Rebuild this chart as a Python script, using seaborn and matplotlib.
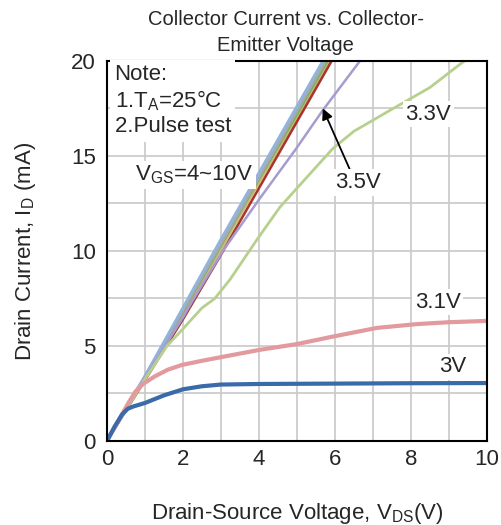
import numpy as np
import pandas as pd
import matplotlib
matplotlib.use("Agg")
import matplotlib.pyplot as plt
import seaborn as sns

# ---- data ----
# VGS = 4~10V bundle (nearly identical curves)
v_bundle = [0, 1, 2, 3, 4, 5, 6]
i_bundle_blue = [0, 3.4, 7.0, 10.6, 14.1, 17.6, 21.1]
i_bundle_gray = [0, 3.4, 6.9, 10.4, 13.9, 17.4, 20.9]
i_bundle_green = [0, 3.35, 6.8, 10.3, 13.8, 17.2, 20.7]
i_bundle_olive = [0, 3.3, 6.7, 10.1, 13.6, 17.0, 20.5]
v_red = [0, 1, 2, 3, 4, 5, 6]
i_red = [0, 3.2, 6.4, 9.8, 13.3, 16.8, 20.3]

# VGS = 3.5V
v_35 = [0, 1, 2, 2.26, 3.05, 4, 4.95, 5.68, 6.66, 7.0]
i_35 = [0, 3.3, 6.5, 7.4, 10.0, 12.7, 15.3, 17.4, 20.0, 20.9]

# VGS = 3.3V
v_33 = [0, 1, 1.58, 2.0, 2.5, 2.84, 3.24, 3.95, 4.55, 5.0, 5.95, 6.5, 7.45, 8.5, 9.34, 9.8]
i_33 = [0, 3.25, 5.0, 5.9, 7.0, 7.5, 8.5, 10.6, 12.3, 13.3, 15.4, 16.3, 17.4, 18.6, 19.9, 20.5]

# VGS = 3.1V
v_31 = [0, 0.3, 0.55, 0.75, 0.95, 1.26, 1.6, 1.97, 2.5, 2.97, 4.03, 5.0, 5.96, 7.1, 8.15, 9.0, 10]
i_31 = [0, 1.05, 1.95, 2.6, 3.0, 3.4, 3.75, 4.0, 4.22, 4.4, 4.8, 5.1, 5.5, 5.95, 6.15, 6.25, 6.32]

# VGS = 3V
v_30 = [0, 0.2, 0.4, 0.55, 0.7, 1.0, 1.5, 2.0, 2.5, 3.0, 4, 6, 8, 10]
i_30 = [0, 0.75, 1.4, 1.7, 1.82, 2.0, 2.4, 2.72, 2.88, 2.97, 3.0, 3.02, 3.04, 3.05]

series = [
    (v_bundle, i_bundle_olive, "#c9bd72", 2.0),
    (v_bundle, i_bundle_green, "#84b067", 2.2),
    (v_bundle, i_bundle_gray, "#a9a9a9", 2.2),
    (v_bundle, i_bundle_blue, "#92b4dc", 2.2),
    (v_red, i_red, "#a8332f", 1.8),
    (v_35, i_35, "#a79bd0", 1.8),
    (v_33, i_33, "#b7d08e", 2.0),
    (v_31, i_31, "#e29a9e", 3.0),
    (v_30, i_30, "#3b6aab", 3.0),
]

sns.set_style("white")
plt.rcParams["font.family"] = ["Liberation Sans", "DejaVu Sans"]
plt.rcParams["mathtext.fontset"] = "custom"
plt.rcParams["mathtext.rm"] = "Liberation Sans"

fig = plt.figure(figsize=(5.02, 5.25), dpi=100)
ax = fig.add_axes([0.213, 0.16, 0.757, 0.724])

for v, i, c, lw in series:
    df = pd.DataFrame({"V": v, "I": i})
    sns.lineplot(data=df, x="V", y="I", ax=ax, color=c, linewidth=lw, sort=False)

ax.set_xlim(0, 10)
ax.set_ylim(0, 20)
ax.set_xticks(np.arange(0, 11, 2))
ax.set_yticks(np.arange(0, 21, 5))
ax.set_xticks(np.arange(0, 11, 1), minor=True)
ax.set_yticks(np.arange(0, 21, 2.5), minor=True)
ax.grid(which="both", color="#c8c8c8", linewidth=1.2)
ax.set_axisbelow(True)
ax.tick_params(which="both", length=0, labelsize=16)
ax.tick_params(axis="x", pad=6)
ax.tick_params(axis="y", pad=8)
for s in ax.spines.values():
    s.set_color("black")
    s.set_linewidth(1.5)

ax.set_xlabel(r"Drain-Source Voltage, V$_\mathregular{DS}$(V)", fontsize=16, labelpad=22)
ax.set_ylabel(r"Drain Current, I$_\mathregular{D}$ (mA)", fontsize=16, labelpad=24)
ax.set_title("Collector Current vs. Collector-\nEmitter Voltage", fontsize=14.5,
             x=0.47, pad=7, linespacing=1.45)

box = dict(facecolor="white", edgecolor="none", pad=2)
ax.text(0.2, 19.85, "Note:\n1.T$_\\mathregular{A}$=25°C\n2.Pulse test", fontsize=16,
        va="top", ha="left", linespacing=1.2, bbox=dict(facecolor="white", edgecolor="none", pad=3))
ax.text(0.75, 14.0, "V$_\\mathregular{GS}$=4~10V", fontsize=16, va="center", ha="left", bbox=box)
ax.text(7.85, 17.2, "3.3V", fontsize=16, va="center", ha="left", bbox=box)
ax.text(8.1, 7.3, "3.1V", fontsize=16, va="center", ha="left", bbox=box)
ax.text(8.75, 3.9, "3V", fontsize=16, va="center", ha="left", bbox=box)
ax.annotate("3.5V", xy=(5.68, 17.5), xytext=(6.0, 13.6), fontsize=16, va="center", ha="left",
            bbox=box, arrowprops=dict(arrowstyle="-|>", color="black", lw=1.3,
                                      shrinkA=0, shrinkB=0, relpos=(0.35, 1.0)))

fig.savefig("out.png", dpi=100)
